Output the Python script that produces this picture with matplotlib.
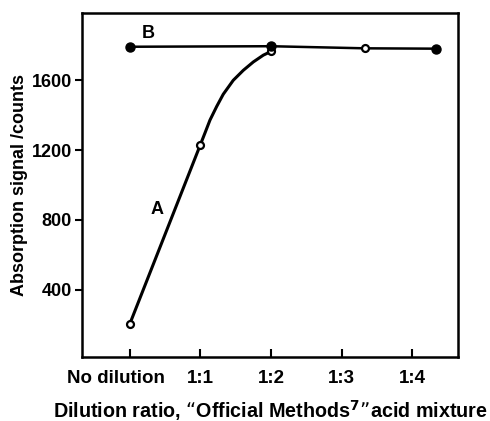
import numpy as np
import matplotlib.pyplot as plt
import matplotlib.transforms as mtransforms

plt.rcParams['font.family'] = ['Liberation Sans', 'DejaVu Sans']
plt.rcParams['font.weight'] = 'bold'

# Tick positions and labels
tick_pos = [0, 1, 2, 3, 4]
tick_labels = ['No dilution', '1:1', '1:2', '1:3', '1:4']

# Curve A (open markers)
a_x = [0, 1, 2]
a_y = [205, 1232, 1765]
# Curve A drawn line
a_line_x = [0, 1, 1.064, 1.135, 1.23, 1.323, 1.465, 1.607, 1.749, 1.891, 2]
a_line_y = [205, 1232, 1298, 1372, 1450, 1520, 1600, 1657, 1705, 1744, 1765]

# Curve B
b_x = [0, 2, 3.33, 4.33]
b_y = [1792, 1795, 1783, 1781]
b_filled = [True, True, False, True]

fig = plt.figure(figsize=(4.90, 4.21), dpi=100)
ax = fig.add_axes([0.167, 0.152, 0.768, 0.817])

ax.plot(a_line_x, a_line_y, color='black', lw=2.2, zorder=2, solid_joinstyle='round')
ax.plot(a_x, a_y, 'o', ms=5, mfc='white', mec='black', mew=1.6, zorder=3)

ax.plot(b_x, b_y, color='black', lw=1.8, zorder=2)
for x, y, f in zip(b_x, b_y, b_filled):
    if f:
        ax.plot(x, y, 'o', ms=6.5, color='black', zorder=4)
    else:
        ax.plot(x, y, 'o', ms=5, mfc='white', mec='black', mew=1.6, zorder=4)

ax.text(0.26, 1870, 'B', fontsize=13, fontweight='bold', ha='center', va='center')
ax.text(0.38, 860, 'A', fontsize=13, fontweight='bold', ha='center', va='center')

ax.set_xlim(-0.68, 4.65)
ax.set_ylim(15, 1985)
ax.set_yticks([400, 800, 1200, 1600])
ax.set_xticks(tick_pos)
ax.set_xticklabels(tick_labels)

ax.tick_params(axis='x', direction='in', length=6, width=1.5, pad=9, labelsize=13.5)
ax.tick_params(axis='y', direction='out', length=5, width=1.5, pad=2, labelsize=13)
for s in ax.spines.values():
    s.set_linewidth(1.8)

# "No dilution" sits a little left of its tick in the original
first = ax.get_xticklabels()[0]
first.set_transform(first.get_transform() +
                    mtransforms.ScaledTranslation(-10 / 72, 0, fig.dpi_scale_trans))

ax.set_ylabel('Absorption signal /counts', fontsize=13, fontweight='bold', labelpad=3)
ax.set_xlabel('Dilution ratio, \u201cOfficial Methods$^{\\mathbf{7}}$\u201dacid mixture',
              fontsize=14.2, fontweight='bold', labelpad=8)

fig.savefig('out.png', dpi=100)
